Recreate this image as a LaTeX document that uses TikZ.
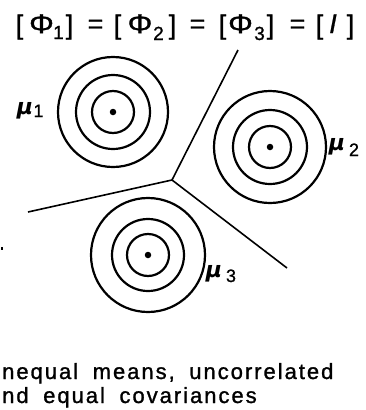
\documentclass[tikz,border=0pt]{standalone}
\usepackage{fontspec}
\setmainfont{Liberation Sans}
\newfontfamily\mufont[BoldItalicFont={DejaVu Sans Bold Oblique}]{DejaVu Sans}
\newfontfamily\titlefont[FakeBold=1]{Liberation Sans}
\newfontfamily\capfont[LetterSpace=9,WordSpace=1.8,FakeBold=1.2]{Liberation Sans}
\begin{document}
\begin{tikzpicture}[x=1pt,y=-1pt,
  ring/.style={line width=2.2pt},
  border/.style={line width=1.6pt},
  ctr/.style={fill,circle,inner sep=0pt,minimum size=6.5pt},
  tok/.style={anchor=base,inner sep=0pt,font=\titlefont\fontsize{27}{27}\selectfont},
  sub/.style={anchor=base,inner sep=0pt,font=\titlefont\fontsize{19}{19}\selectfont},
  mu/.style={anchor=base,inner sep=0pt,font=\mufont\bfseries\itshape\fontsize{22}{22}\selectfont},
  musub/.style={anchor=base,inner sep=0pt,font=\titlefont\fontsize{18}{18}\selectfont},
  captext/.style={anchor=base west,inner sep=0pt,font=\capfont\fontsize{22}{22}\selectfont}]
\useasboundingbox (0,0) rectangle (366,410);
% title
\node[tok] (b1) at (19.5,34) {[};
\node[tok] (p1) at (41.5,33) {\scalebox{1.15}[1]{Φ}};
\node[sub] (s1) at (58.5,39) {1};
\node[tok] (c1) at (69.5,34) {]};
\node[tok] (e1) at (95.5,33) {=};
\node[tok] (b2) at (117.5,34) {[};
\node[tok] (p2) at (140,33) {\scalebox{1.15}[1]{Φ}};
\node[sub] (s2) at (158.5,40) {2};
\node[tok] (c2) at (172.5,34) {]};
\node[tok] (e2) at (197.5,33) {=};
\node[tok] (b3) at (222.5,34) {[};
\node[tok] (p3) at (240.5,33) {\scalebox{1.15}[1]{Φ}};
\node[sub] (s3) at (259.5,40) {3};
\node[tok] (c3) at (270.5,34) {]};
\node[tok] (e3) at (297.5,33) {=};
\node[tok] (b4) at (319.5,34) {[};
\node[tok] (ii) at (333,33) {\textit{I}};
\node[tok] (c4) at (350.5,34) {]};
% partition lines
\coordinate (J) at (172,180);
\coordinate (U) at (238,50);
\coordinate (L) at (28,212);
\coordinate (R) at (287,268);
\draw[border] (U) -- (J) -- (L);
\draw[border] (J) -- (R);
% class 1
\node[ctr] (m1) at (113,112) {};
\foreach \r in {21,37,55} \draw[ring] (m1.center) circle (\r);
% class 2
\node[ctr] (m2) at (270,147) {};
\foreach \r in {21,37,56} \draw[ring] (m2.center) circle (\r);
% class 3
\node[ctr] (m3) at (148,255) {};
\foreach \r in {21,36,57} \draw[ring] (m3.center) circle (\r);
% mean labels
\node[mu] (mu1) at (25,114) {μ};
\node[musub] (mu1s) at (38.5,117) {1};
\node[mu] (mu2) at (337,150) {μ};
\node[musub] (mu2s) at (354,156) {2};
\node[mu] (mu3) at (214,277) {μ};
\node[musub] (mu3s) at (231,282) {3};
% stray mark
\fill (1,247) rectangle (3,249.5);
% caption
\node[captext] (cap1) at (2,379) {nequal means, uncorrelated};
\node[captext] (cap2) at (2,403) {nd equal covariances};
\end{tikzpicture}
\end{document}
